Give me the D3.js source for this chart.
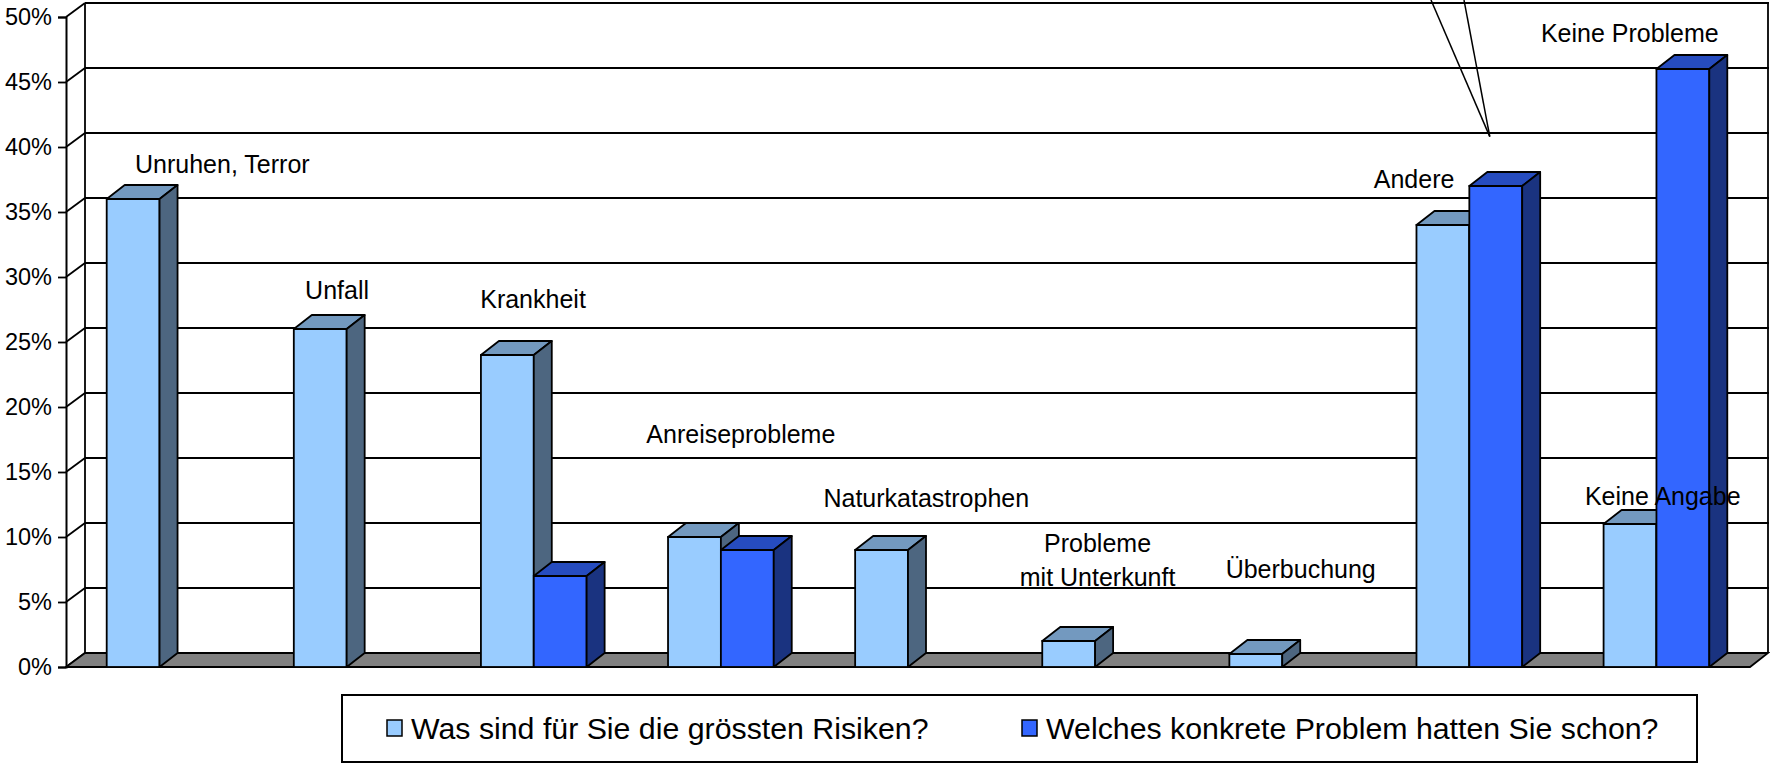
<!DOCTYPE html>
<html>
<head>
<meta charset="utf-8">
<script src="https://cdn.jsdelivr.net/npm/d3@7"></script>
<style>
  body { margin: 0; background: #fff; }
  svg { display: block; font-family: "Liberation Sans", Arial, sans-serif; }
</style>
</head>
<body>
<div id="chart"></div>
<script>
// DATA
var categories = ["Unruhen, Terror", "Unfall", "Krankheit", "Anreiseprobleme", "Naturkatastrophen",
  "Probleme mit Unterkunft", "Überbuchung", "Andere", "Keine Angabe / Keine Probleme"];
var seriesNames = ["Was sind für Sie die grössten Risiken?", "Welches konkrete Problem hatten Sie schon?"];
var risiken = [36, 26, 24, 10, 9, 2, 1, 34, 11];
var probleme = [0, 0, 7, 9, 0, 0, 0, 37, 46];
var yTicks = [0, 5, 10, 15, 20, 25, 30, 35, 40, 45, 50];

// category labels floating in the plot (text, category, offset in px from band start, height in %)
var labelTexts = ["Unruhen, Terror", "Unfall", "Krankheit", "Anreiseprobleme", "Naturkatastrophen",
  "Überbuchung", "Andere", "Keine Probleme", "Keine Angabe"];
var labelCats = [0, 1, 2, 3, 4, 6, 7, 8, 8];
var labelDx = [69, 52, 40, 19, 9, 37, -2, -22, 22];
var labelAt = [38, 28.3, 27.6, 17.2, 12.3, 6.85, 36.85, 48.1, 12.5];

// SETUP
var W = 1770, H = 764;
var margin = { left: 66, right: 20, top: 17, bottom: 97 };
var depth = { x: 19, y: 14 };      // wall depth
var barDepth = { x: 18, y: 14 };   // bar depth

var colors = [
  { front: "#99CCFF", top: "#7399BF", side: "#4D6680" },
  { front: "#3366FF", top: "#264CBF", side: "#1A3380" }
];

var svg = d3.select("#chart").append("svg")
  .attr("width", W)
  .attr("height", H);

var x0 = d3.scaleBand()
  .domain(categories)
  .range([margin.left, W - margin.right]);

var x1 = d3.scaleBand()
  .domain([0, 1])
  .range([0, x0.bandwidth()])
  .paddingInner(0)
  .paddingOuter(0.77);

var y = d3.scaleLinear()
  .domain([0, 50])
  .range([H - margin.bottom, margin.top]);

var xl = margin.left, xr = x0.range()[1];

// back wall gridlines
var g = svg.append("g");
g.selectAll(".grid")
  .data(yTicks.slice(1))
  .enter().append("line")
  .attr("x1", xl + depth.x).attr("x2", xr + depth.x)
  .attr("y1", function (d) { return y(d) - depth.y; })
  .attr("y2", function (d) { return y(d) - depth.y; })
  .attr("stroke", "#000").attr("stroke-width", 1.8);

// left wall diagonals
g.selectAll(".diag")
  .data(yTicks)
  .enter().append("line")
  .attr("x1", xl).attr("x2", xl + depth.x)
  .attr("y1", function (d) { return y(d); })
  .attr("y2", function (d) { return y(d) - depth.y; })
  .attr("stroke", "#000").attr("stroke-width", 1.8);

// wall edges
g.append("line")
  .attr("x1", xl + depth.x).attr("x2", xl + depth.x)
  .attr("y1", y(50) - depth.y).attr("y2", y(0) - depth.y)
  .attr("stroke", "#000").attr("stroke-width", 1.8);
g.append("line")
  .attr("x1", xr + depth.x - 1).attr("x2", xr + depth.x - 1)
  .attr("y1", y(50) - depth.y).attr("y2", y(0) - depth.y)
  .attr("stroke", "#000").attr("stroke-width", 1.8);

// floor
g.append("polygon")
  .attr("points", [[xl, y(0)], [xr, y(0)], [xr + depth.x - 1, y(0) - depth.y], [xl + depth.x, y(0) - depth.y]].join(" "))
  .attr("fill", "#808080").attr("stroke", "#000").attr("stroke-width", 1.8);

// y axis
var yAxis = svg.append("g")
  .attr("transform", "translate(" + xl + ",0)")
  .call(d3.axisLeft(y).tickValues(yTicks).tickSize(8).tickPadding(6)
    .tickFormat(function (d) { return d + "%"; }));
yAxis.select(".domain").attr("stroke-width", 2);
yAxis.selectAll(".tick line").attr("stroke-width", 1.8);
yAxis.selectAll("text")
  .attr("font-size", 23.5)
  .attr("fill", "#000")
  .attr("font-family", "'Liberation Sans', Arial, sans-serif");

// BARS
var bars = [];
categories.forEach(function (c, i) {
  [risiken[i], probleme[i]].forEach(function (v, s) {
    if (v > 0) bars.push({ cat: c, s: s, v: v });
  });
});

var barG = svg.selectAll(".bar")
  .data(bars)
  .enter().append("g")
  .attr("class", "bar");

function bx(d) { return x0(d.cat) + x1(d.s); }

barG.append("rect")
  .attr("x", bx)
  .attr("y", function (d) { return y(d.v); })
  .attr("width", x1.bandwidth())
  .attr("height", function (d) { return y(0) - y(d.v); })
  .attr("fill", function (d) { return colors[d.s].front; })
  .attr("stroke", "#000").attr("stroke-width", 1.8);

barG.append("polygon")
  .attr("points", function (d) {
    var a = bx(d), b = a + x1.bandwidth(), t = y(d.v);
    return [[a, t], [a + barDepth.x, t - barDepth.y], [b + barDepth.x, t - barDepth.y], [b, t]].join(" ");
  })
  .attr("fill", function (d) { return colors[d.s].top; })
  .attr("stroke", "#000").attr("stroke-width", 1.8).attr("stroke-linejoin", "round");

barG.append("polygon")
  .attr("points", function (d) {
    var b = bx(d) + x1.bandwidth(), t = y(d.v), z = y(0);
    return [[b, t], [b + barDepth.x, t - barDepth.y], [b + barDepth.x, z - barDepth.y], [b, z]].join(" ");
  })
  .attr("fill", function (d) { return colors[d.s].side; })
  .attr("stroke", "#000").attr("stroke-width", 1.8).attr("stroke-linejoin", "round");

// LABELS
svg.selectAll(".lbl")
  .data(labelTexts)
  .enter().append("text")
  .attr("x", function (d, i) { return x0(categories[labelCats[i]]) + labelDx[i]; })
  .attr("y", function (d, i) { return y(labelAt[i]); })
  .attr("font-size", 25)
  .text(function (d) { return d; });

var two = svg.append("text")
  .attr("text-anchor", "middle")
  .attr("font-size", 25);
two.append("tspan")
  .attr("x", x0(categories[5]) + 96).attr("y", y(8.85))
  .text("Probleme");
two.append("tspan")
  .attr("x", x0(categories[5]) + 96).attr("y", y(6.23))
  .text("mit Unterkunft");

// leader lines from an off-chart label to "Andere"
var tip = [x0(categories[7]) + 114, y(40.8)];
[1431, 1464].forEach(function (sx) {
  svg.append("line")
    .attr("x1", sx).attr("y1", 0)
    .attr("x2", tip[0]).attr("y2", tip[1])
    .attr("stroke", "#000").attr("stroke-width", 1.5);
});

// LEGEND
var leg = svg.append("g");
leg.append("rect")
  .attr("x", 342).attr("y", 695)
  .attr("width", 1355).attr("height", 67)
  .attr("fill", "#fff").attr("stroke", "#000").attr("stroke-width", 2);

var legX = [387, 1022];
seriesNames.forEach(function (name, i) {
  leg.append("rect")
    .attr("x", legX[i]).attr("y", 720)
    .attr("width", 15).attr("height", 16)
    .attr("fill", colors[i].front)
    .attr("stroke", "#000").attr("stroke-width", 1.5);
  leg.append("text")
    .attr("x", legX[i] + 24).attr("y", 739)
    .attr("font-size", 30.3)
    .text(name);
});
</script>
</body>
</html>
